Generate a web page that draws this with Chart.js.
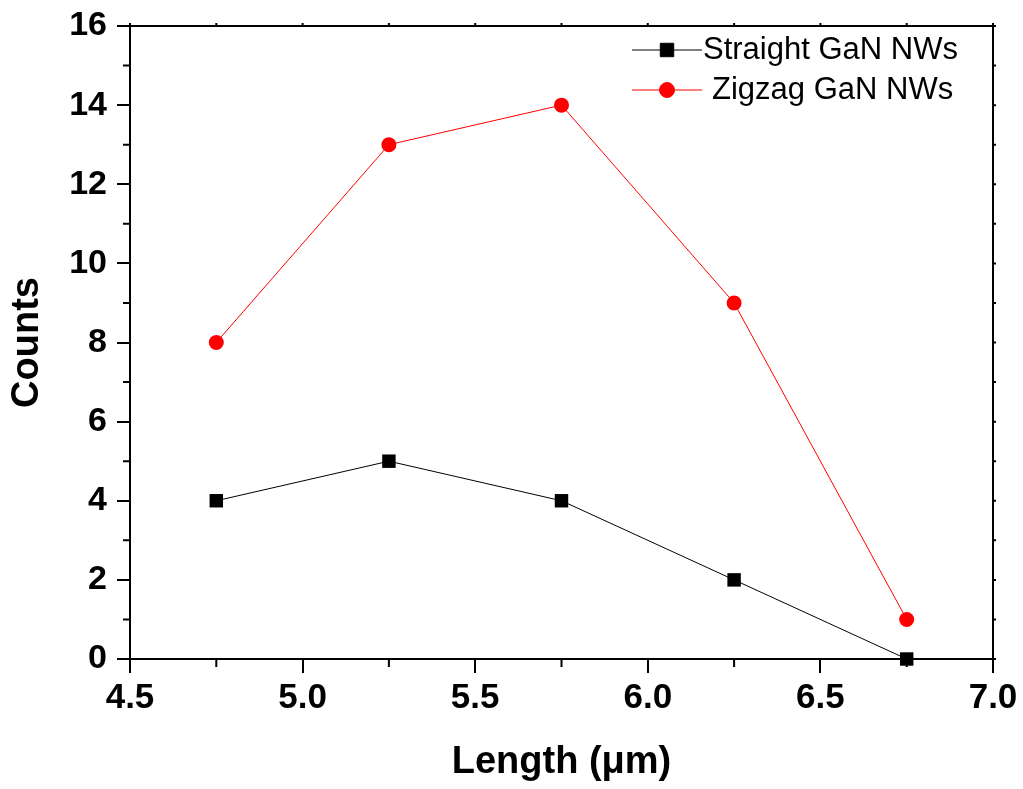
<!DOCTYPE html>
<html>
<head>
<meta charset="utf-8">
<script src="https://cdn.jsdelivr.net/npm/chart.js@4.4.0/dist/chart.umd.min.js"></script>
<style>
  html, body { margin: 0; padding: 0; background: #fff; }
  #wrap { width: 1023px; height: 789px; }
</style>
</head>
<body>
<div id="wrap"><canvas id="chart" width="1023" height="789"></canvas></div>
<script>
// data
const lengths = [4.75, 5.25, 5.75, 6.25, 6.75];
const straightCounts = [4, 5, 4, 2, 0];
const zigzagCounts = [8, 13, 14, 9, 1];
const seriesNames = ['Straight GaN NWs', 'Zigzag GaN NWs'];

const FONT = "Arial, 'Liberation Sans', sans-serif";

const toPoints = (xs, ys) => xs.map((x, i) => ({x: x, y: ys[i]}));

// minor ticks, the top/right frame and the legend
const framePlugin = {
    id: 'frame',
    afterDraw(chart) {
        const {ctx, chartArea: a, scales: {x, y}} = chart;
        ctx.save();
        ctx.strokeStyle = '#000';
        ctx.lineWidth = 2;
        ctx.beginPath();
        ctx.moveTo(a.left, a.top);
        ctx.lineTo(a.right, a.top);
        ctx.lineTo(a.right, a.bottom);
        ctx.stroke();

        ctx.lineWidth = 2;
        ctx.beginPath();
        for (let v = 0; v <= 16; v += 1) {
            const py = y.getPixelForValue(v);
            if (v % 2) { ctx.moveTo(a.left - 7, py); ctx.lineTo(a.left, py); }
            ctx.moveTo(a.right, py); ctx.lineTo(a.right + 3, py);
        }
        for (let v = 4.5; v <= 7.0001; v += 0.25) {
            const px = x.getPixelForValue(v);
            if (Math.round(v * 4) % 2) { ctx.moveTo(px, a.bottom); ctx.lineTo(px, a.bottom + 8); }
            ctx.moveTo(px, a.top); ctx.lineTo(px, a.top - 3);
        }
        ctx.stroke();

        // legend
        ctx.font = '31px ' + FONT;
        ctx.textBaseline = 'middle';
        ctx.fillStyle = '#000';
        const rows = [{y: a.top + 24, tx: 703}, {y: a.top + 64, tx: 712}];
        chart.data.datasets.forEach((ds, i) => {
            const r = rows[i];
            ctx.strokeStyle = ds.borderColor;
            ctx.lineWidth = 1;
            ctx.beginPath();
            ctx.moveTo(632, r.y); ctx.lineTo(702, r.y);
            ctx.stroke();
            ctx.fillStyle = ds.pointBackgroundColor;
            ctx.strokeStyle = ds.pointBackgroundColor;
            Chart.helpers.drawPoint(ctx, {
                pointStyle: ds.pointStyle, radius: ds.pointRadius, borderWidth: 1
            }, 667, r.y);
            ctx.fillStyle = '#000';
            ctx.fillText(ds.label, r.tx, r.y);
        });
        ctx.restore();
    }
};

new Chart(document.getElementById('chart').getContext('2d'), {
    type: 'line',
    data: {
        datasets: [{
            label: seriesNames[0],
            data: toPoints(lengths, straightCounts),
            borderColor: '#000',
            borderWidth: 1,
            pointStyle: 'rect',
            pointRadius: 9.5,
            pointBackgroundColor: '#000',
            pointBorderColor: '#000',
            pointBorderWidth: 0,
            clip: false
        }, {
            label: seriesNames[1],
            data: toPoints(lengths, zigzagCounts),
            borderColor: '#ff0000',
            borderWidth: 1,
            pointStyle: 'circle',
            pointRadius: 7.5,
            pointBackgroundColor: '#ff0000',
            pointBorderColor: '#ff0000',
            pointBorderWidth: 0,
            clip: false
        }]
    },
    options: {
        responsive: false,
        animation: false,
        layout: {padding: {left: 0, right: 30, top: 26, bottom: 2}},
        plugins: {legend: {display: false}, tooltip: {enabled: false}},
        scales: {
            x: {
                type: 'linear',
                min: 4.5, max: 7.0,
                afterBuildTicks: s => { s.ticks = [4.5, 5.0, 5.5, 6.0, 6.5, 7.0].map(v => ({value: v})); },
                afterFit: s => { s.height = 789 - 659 - 2; },
                border: {display: true, color: '#000', width: 2},
                grid: {drawOnChartArea: false, drawTicks: true, tickLength: 14, color: '#000', lineWidth: 2},
                ticks: {
                    color: '#000', padding: 4,
                    font: {family: FONT, size: 35, weight: 'bold'},
                    callback: v => v.toFixed(1), maxRotation: 0, autoSkip: false
                },
                title: {
                    display: true, text: 'Length (\u03bcm)', color: '#000',
                    font: {family: FONT, size: 38, weight: 'bold'},
                    padding: {top: 0, bottom: 2}
                }
            },
            y: {
                min: 0, max: 16,
                ticks: {
                    stepSize: 2, color: '#000', padding: 10,
                    font: {family: FONT, size: 34, weight: 'bold', lineHeight: 1.0}
                },
                afterFit: s => { s.width = 130; s.paddingTop = 0; s.paddingBottom = 0; },
                border: {display: true, color: '#000', width: 2},
                grid: {drawOnChartArea: false, drawTicks: true, tickLength: 13, color: '#000', lineWidth: 2},
                title: {
                    display: true, text: 'Counts', color: '#000',
                    font: {family: FONT, size: 38, weight: 'bold'},
                    padding: {top: 5, bottom: 0}
                }
            }
        }
    },
    plugins: [framePlugin]
});
</script>
</body>
</html>
